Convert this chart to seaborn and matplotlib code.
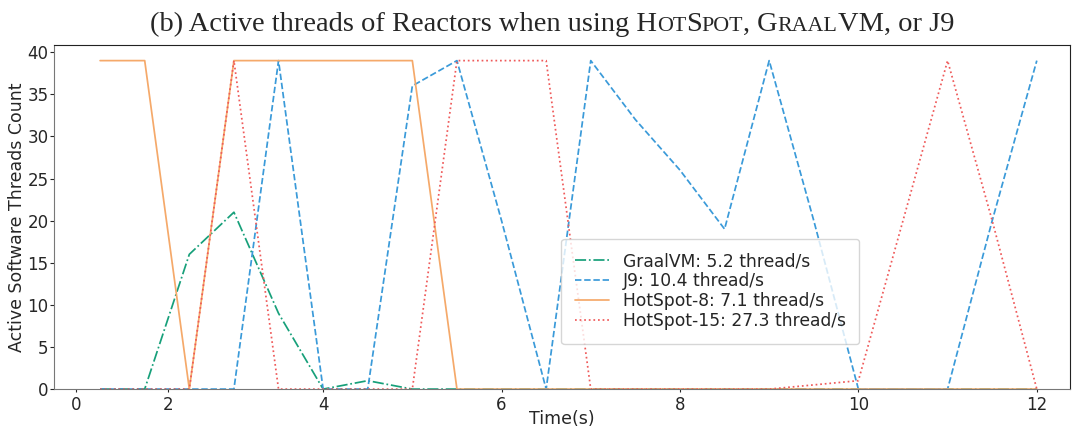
import matplotlib
matplotlib.use("Agg")
import matplotlib.pyplot as plt
import pandas as pd
import seaborn as sns
from matplotlib.offsetbox import TextArea, HPacker, AnchoredOffsetbox

# sample times (s), one every half second
time_s = [1.5, 2.0, 2.5, 3.0, 3.5, 4.0, 4.5, 5.0, 5.5, 6.0, 6.5,
          7.0, 7.5, 8.0, 8.5, 9.0, 9.5, 10.0, 10.5, 11.0, 11.5, 12.0]

graalvm = [0, 0, 16, 21, 9, 0, 1, 0, 0, 0, 0,
           0, 0, 0, 0, 0, 0, 0, 0, 0, 0, 0]
j9 = [0, 0, 0, 0, 39, 0, 0, 36, 39, 20, 0,
      39, 32, 26, 19, 39, 20, 0, 0, 0, 20, 39]
hotspot8 = [39, 39, 0, 39, 39, 39, 39, 39, 0, 0, 0,
            0, 0, 0, 0, 0, 0, 0, 0, 0, 0, 0]
hotspot15 = [0, 0, 0, 39, 0, 0, 0, 0, 39, 39, 39,
             0, 0, 0, 0, 0, 0.5, 1, 20, 39, 20, 0]

labels = ["GraalVM: 5.2 thread/s", "J9: 10.4 thread/s",
          "HotSpot-8: 7.1 thread/s", "HotSpot-15: 27.3 thread/s"]
colors = ["#17a07a", "#3a9ad9", "#f5a96a", "#ef5a5a"]
styles = ["-.", "--", "-", ":"]

xtick_pos = [1.23, 2.26, 4, 6, 8, 10, 12]
xtick_labels = ["0", "2", "4", "6", "8", "10", "12"]

df = pd.DataFrame({"time": time_s, "GraalVM": graalvm, "J9": j9,
                   "HotSpot-8": hotspot8, "HotSpot-15": hotspot15})

sns.set_style("ticks")
plt.rcParams["font.family"] = ["DejaVu Sans"]

fig, ax = plt.subplots(figsize=(10.85, 4.29), dpi=100)
fig.subplots_adjust(left=0.05, right=0.986, top=0.896, bottom=0.093)

for col, lab, c, ls in zip(["GraalVM", "J9", "HotSpot-8", "HotSpot-15"], labels, colors, styles):
    sns.lineplot(data=df, x="time", y=col, ax=ax, color=c, linestyle=ls,
                 linewidth=1.25, label=lab)

ax.set_xlim(0.986, 12.37)
ax.set_ylim(0, 40.9)
ax.set_xticks(xtick_pos)
ax.set_xticklabels(xtick_labels, fontsize=12)
ax.set_yticks(range(0, 41, 5))
ax.tick_params(axis="y", labelsize=12, length=3, pad=1)
ax.tick_params(axis="x", length=2, pad=3)
ax.set_xlabel("Time(s)", fontsize=12.5, labelpad=-3)
ax.set_ylabel("Active Software Threads Count", fontsize=12.5, labelpad=1)

for side in ["left", "bottom"]:
    ax.spines[side].set_color("#777777")
for side in ["top", "right"]:
    ax.spines[side].set_color("#222222")

ax.legend(loc="center", bbox_to_anchor=(0.646, 0.284), fontsize=12.3,
          handlelength=2.0, borderpad=0.8, labelspacing=0.12)

# title with small caps pieces
big = dict(family="Liberation Serif", size=20.5)
small = dict(family="Liberation Serif", size=15.8)
parts = [("(b) Active threads of Reactors when using H", big), ("OT", small),
         ("S", big), ("POT", small), (", G", big), ("RAAL", small),
         ("VM, or J9", big)]
boxes = [TextArea(t, textprops=p) for t, p in parts]
pack = HPacker(children=boxes, align="baseline", pad=0, sep=0)
anch = AnchoredOffsetbox(loc="lower center", child=pack, frameon=False,
                         bbox_to_anchor=(0.49, 1.022), bbox_transform=ax.transAxes,
                         borderpad=0, pad=0)
ax.add_artist(anch)

fig.savefig("out.png", dpi=100)
